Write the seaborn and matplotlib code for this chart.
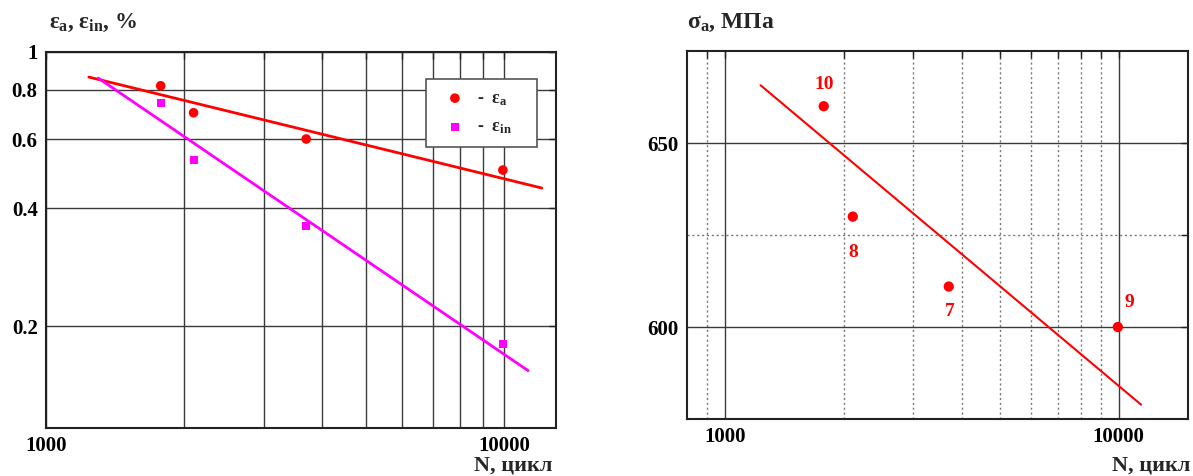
import matplotlib
matplotlib.use("Agg")
import matplotlib.pyplot as plt
import matplotlib.ticker as mticker
import seaborn as sns


# Data ---------------------------------------------------------------------------------

# strain amplitude vs cycles (left panel)
n_strain = [1780, 2100, 3700, 9950]
eps_a = [0.82, 0.70, 0.60, 0.50]
eps_in = [0.74, 0.53, 0.36, 0.18]

fit_a_n = [1240, 12100]
fit_a = [0.863, 0.45]
fit_in_n = [1300, 11300]
fit_in = [0.858, 0.154]

# stress amplitude vs cycles (right panel)
n_stress = [1780, 2110, 3700, 9950]
sigma_a = [660, 630, 611, 600]
sample_ids = ["10", "8", "7", "9"]

fit_s_n = [1230, 11400]
fit_s = [665.7, 578.9]

strain_ticks = [0.2, 0.4, 0.6, 0.8, 1]
strain_tick_labels = ["0.2", "0.4", "0.6", "0.8", "1"]
n_ticks = [1000, 10000]
n_tick_labels = ["1000", "10000"]


# Style ---------------------------------------------------------------------------------

sns.set_theme(style="white")
plt.rcParams["font.family"] = ["Liberation Serif", "DejaVu Serif"]
plt.rcParams["font.weight"] = "bold"
plt.rcParams["mathtext.fontset"] = "custom"
plt.rcParams["mathtext.rm"] = "Liberation Serif:bold"
plt.rcParams["mathtext.it"] = "Liberation Serif:bold"
plt.rcParams["mathtext.bf"] = "Liberation Serif:bold"

grid_c = "#3a3a3a"
dot_c = "#777777"
spine_c = "#222222"

fig = plt.figure(figsize=(11.93, 4.76), dpi=100)
ax1 = fig.add_axes([0.0386, 0.1008, 0.4275, 0.790])
ax2 = fig.add_axes([0.5759, 0.1197, 0.4199, 0.7731])


def style_axes(ax):
    for s in ax.spines.values():
        s.set_color(spine_c)
        s.set_linewidth(1.5)
    ax.tick_params(which="both", direction="in", top=True, right=True,
                   length=5, width=1, colors=spine_c, labelcolor="black",
                   labelsize=15, pad=6)
    ax.set_xlabel("")
    ax.set_ylabel("")


# Left panel ---------------------------------------------------------------------------

sns.lineplot(x=fit_a_n, y=fit_a, ax=ax1, color="red", lw=2, legend=False)
sns.lineplot(x=fit_in_n, y=fit_in, ax=ax1, color="magenta", lw=2, legend=False)
sns.scatterplot(x=n_strain, y=eps_a, ax=ax1, color="red", marker="o", s=48,
                edgecolor="none", label="-  ε$_\\mathrm{a}$     ", zorder=5)
sns.scatterplot(x=n_strain, y=eps_in, ax=ax1, color="magenta", marker="s", s=34,
                edgecolor="none", label="-  ε$_\\mathrm{in}$    ", zorder=5)

ax1.set_xscale("log")
ax1.set_yscale("log")
ax1.set_xlim(1000, 13000)
ax1.set_ylim(0.11, 1)
ax1.xaxis.set_major_locator(mticker.FixedLocator(n_ticks))
ax1.xaxis.set_major_formatter(mticker.FixedFormatter(n_tick_labels))
ax1.xaxis.set_minor_locator(mticker.FixedLocator(range(2000, 10000, 1000)))
ax1.xaxis.set_minor_formatter(mticker.NullFormatter())
ax1.yaxis.set_major_locator(mticker.FixedLocator(strain_ticks))
ax1.yaxis.set_major_formatter(mticker.FixedFormatter(strain_tick_labels))
ax1.yaxis.set_minor_locator(mticker.NullLocator())
ax1.grid(which="both", axis="x", color=grid_c, lw=1)
ax1.grid(which="major", axis="y", color=grid_c, lw=1)
style_axes(ax1)

leg = ax1.legend(loc="upper left", bbox_to_anchor=(0.745, 0.928), borderaxespad=0,
                 frameon=True, fancybox=False, framealpha=1, edgecolor="#555555",
                 fontsize=13, handletextpad=0.2, labelspacing=0.6, borderpad=0.6)
leg.get_frame().set_linewidth(1.2)

fig.text(0.041, 1 - 28 / 476, "ε$_\\mathrm{a}$, ε$_\\mathrm{in}$, %", fontsize=16.5,
         weight="bold", va="baseline", ha="left")
fig.text(552 / 1193, 0.5 / 476, "N, цикл", fontsize=16, weight="bold",
         ha="right", va="bottom")


# Right panel --------------------------------------------------------------------------

sns.lineplot(x=fit_s_n, y=fit_s, ax=ax2, color="red", lw=1.5, legend=False)
sns.scatterplot(x=n_stress, y=sigma_a, ax=ax2, color="red", marker="o", s=55,
                edgecolor="none", zorder=5)

label_offsets = {"10": (0, 16), "8": (0, -26), "7": (0.7, -18), "9": (8.6, 17.3)}
for n, s, lbl in zip(n_stress, sigma_a, sample_ids):
    ax2.annotate(lbl, (n, s), xytext=label_offsets[lbl], textcoords="offset points",
                 ha="center", va="center", color="red", fontsize=14, weight="bold")

ax2.set_xscale("log")
ax2.set_xlim(800, 15000)
ax2.set_ylim(575, 675)
ax2.xaxis.set_major_locator(mticker.FixedLocator(n_ticks))
ax2.xaxis.set_major_formatter(mticker.FixedFormatter(n_tick_labels))
ax2.xaxis.set_minor_locator(mticker.FixedLocator([900] + list(range(2000, 10000, 1000))))
ax2.xaxis.set_minor_formatter(mticker.NullFormatter())
ax2.yaxis.set_major_locator(mticker.FixedLocator([600, 650]))
ax2.yaxis.set_minor_locator(mticker.FixedLocator([625]))
ax2.grid(which="major", color=grid_c, lw=1)
ax2.grid(which="minor", color=dot_c, lw=1, ls=(0, (1.5, 2)))
style_axes(ax2)

fig.text(687 / 1193, 1 - 28 / 476, "σ$_\\mathrm{a}$, МПа", fontsize=17,
         weight="bold", va="baseline", ha="left")
fig.text(1190 / 1193, 0.5 / 476, "N, цикл", fontsize=16, weight="bold",
         ha="right", va="bottom")

fig.savefig("out.png", dpi=100)
